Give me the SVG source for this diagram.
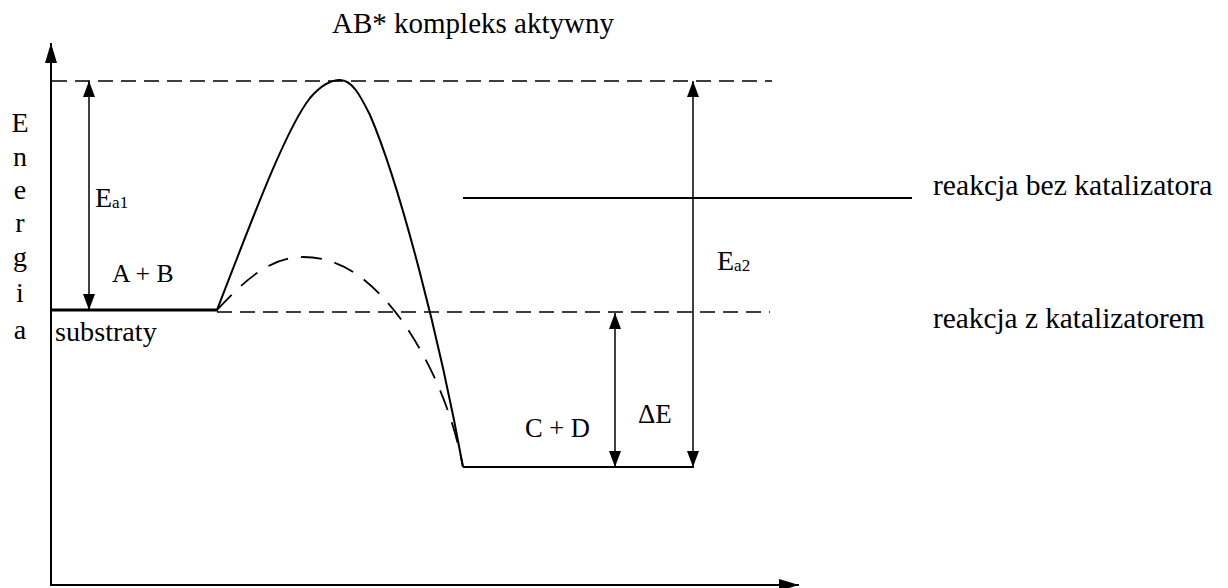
<svg xmlns="http://www.w3.org/2000/svg" width="1228" height="588" viewBox="0 0 1228 588">
<style>
text{font-family:"Liberation Serif","Times New Roman",serif;fill:#000}
.ax{stroke:#000;stroke-width:2;fill:none}
.dash{stroke:#000;stroke-width:1.6;stroke-dasharray:15 8;fill:none}
.curve{stroke:#000;stroke-width:2;fill:none}
.cdash{stroke:#000;stroke-width:1.8;stroke-dasharray:21 13;fill:none}
.arr{stroke:#000;stroke-width:1.5;fill:none;marker-start:url(#ah);marker-end:url(#ah)}
</style>
<defs>
<marker id="ah" viewBox="0 0 16 12" refX="16" refY="6" markerWidth="16" markerHeight="12" markerUnits="userSpaceOnUse" orient="auto-start-reverse">
<path d="M0,0 L16,6 L0,12 Z" fill="#000"/>
</marker>
<marker id="axh" viewBox="0 0 20 12" refX="20" refY="6" markerWidth="20" markerHeight="12" markerUnits="userSpaceOnUse" orient="auto">
<path d="M0,0 L20,6 L0,12 Z" fill="#000"/>
</marker>
</defs>
<rect width="1228" height="588" fill="#fff"/>
<g id="axes">
<line class="ax" x1="51" y1="586" x2="51" y2="43" marker-end="url(#axh)"/>
<line class="ax" x1="50" y1="585" x2="799" y2="585" marker-end="url(#axh)"/>
<g id="y-label" font-size="28" text-anchor="middle">
<text x="20" y="132">E</text>
<text x="20" y="166">n</text>
<text x="20" y="199">e</text>
<text x="20" y="232">r</text>
<text x="20" y="266">g</text>
<text x="20" y="302">i</text>
<text x="20" y="339">a</text>
</g>
</g>
<g id="levels">
<line class="dash" x1="52" y1="81" x2="772" y2="81"/>
<line class="dash" x1="217" y1="312" x2="770" y2="312"/>
<line stroke="#000" stroke-width="3" x1="51" y1="310" x2="218" y2="310"/>
<line stroke="#000" stroke-width="2" x1="463" y1="467" x2="694" y2="467"/>
<line stroke="#000" stroke-width="2" x1="463" y1="198" x2="912" y2="198"/>
</g>
<g id="connectors">
<path class="curve" d="M217,310 C250,225 285,130 310,98 C322,84 332,80 340,80 C352,80 360,95 370,115 C400,185 440,340 463,467"/>
<path class="cdash" d="M217,310 C245,280 270,257 303,257 C345,257 375,285 400,318 C430,360 452,410 463,467"/>
<line class="arr" x1="89" y1="81" x2="89" y2="310"/>
<line class="arr" x1="693" y1="81" x2="693" y2="467"/>
<line class="arr" x1="615" y1="313" x2="615" y2="467"/>
</g>
<g id="title"><text x="332" y="33" font-size="29">AB* kompleks aktywny</text></g>
<g id="ea1"><text x="95" y="207" font-size="28">E<tspan font-size="17" dy="1">a1</tspan></text></g>
<g id="ab"><text x="112" y="282" font-size="25.7">A + B</text></g>
<g id="substraty"><text x="55" y="341" font-size="28.2">substraty</text></g>
<g id="cd"><text x="525" y="437" font-size="26.5">C + D</text></g>
<g id="de"><text x="638" y="423" font-size="27">ΔE</text></g>
<g id="ea2"><text x="717" y="270" font-size="28">E<tspan font-size="17" dy="1">a2</tspan></text></g>
<g id="legend1"><text x="933" y="195" font-size="29.6">reakcja bez katalizatora</text></g>
<g id="legend2"><text x="933" y="328" font-size="29.3">reakcja z katalizatorem</text></g>
</svg>
